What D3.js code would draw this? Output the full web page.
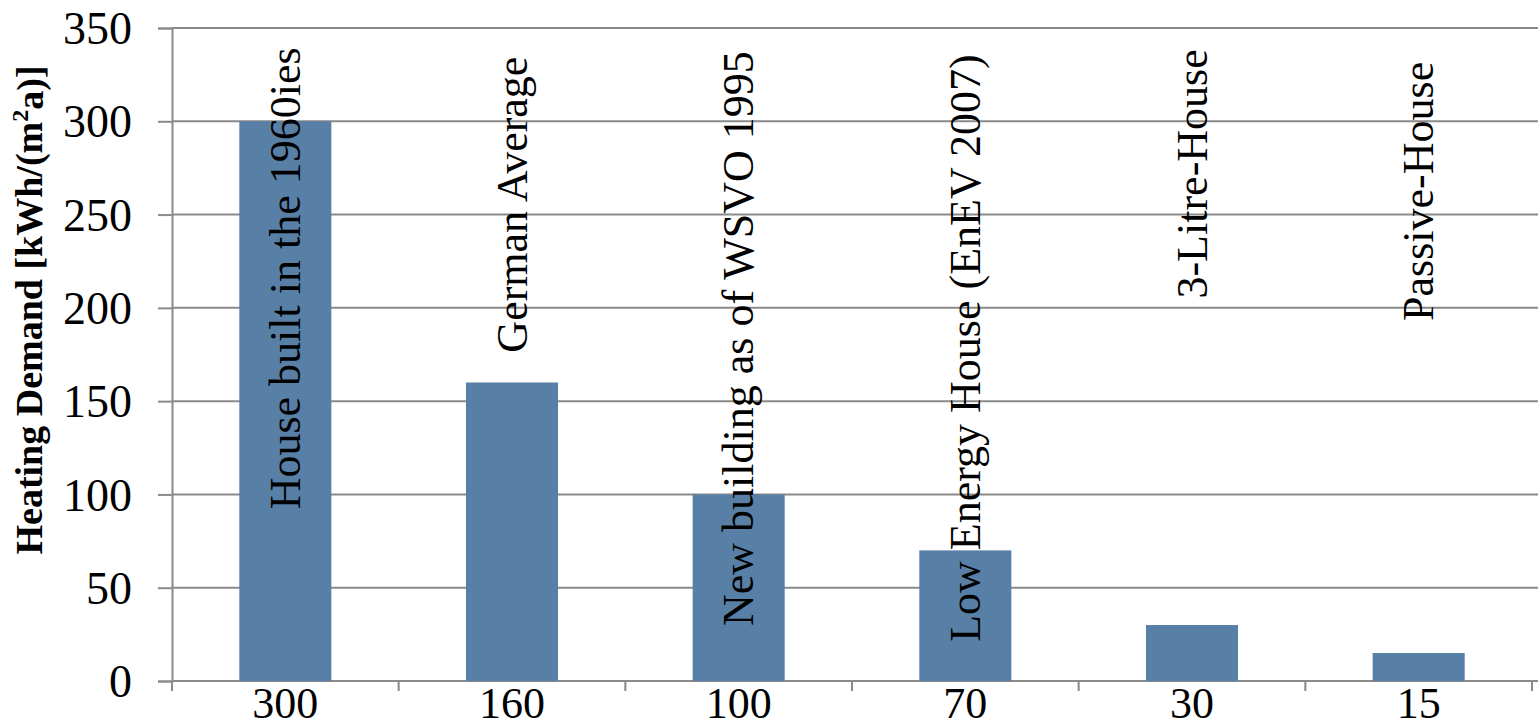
<!DOCTYPE html>
<html><head><meta charset="utf-8">
<script src="https://cdn.jsdelivr.net/npm/d3@7"></script>
<style>
html,body{margin:0;padding:0;background:#fff;}
svg{display:block;}
</style></head>
<body>
<svg id="chart" width="1538" height="728"></svg>
<script>
// ---- data ----
const categories = ["House built in the 1960ies","German Average","New building as of WSVO 1995","Low Energy House (EnEV 2007)","3-Litre-House","Passive-House"];
const values = [300,160,100,70,30,15];
const xTickLabels = ["300","160","100","70","30","15"];
const labelBase = [92,176,29.5,21,205,193];   // where each rotated category label starts (data units)
const yTicks = [0,50,100,150,200,250,300,350];
const yTitle = "Heating Demand [kWh/(m";
const yTitleSup = "2";
const yTitleEnd = "a)]";

// ---- layout ----
const W = 1538, H = 728;
const m = {left:172, right:6, top:28, bottom:47};
const svg = d3.select("#chart");
const font = "'Liberation Serif','Times New Roman',serif";
const gridCol = "#8a8a8a", barCol = "#587fa6";

const x = d3.scaleBand().domain(categories).range([m.left, W - m.right]).paddingInner(0.594).paddingOuter(0.297);
const y = d3.scaleLinear().domain([0,350]).range([H - m.bottom, m.top]);

// gridlines + y axis
const yAxis = d3.axisLeft(y).tickValues(yTicks).tickSize(14).tickPadding(26).tickFormat(d3.format("d"));
const gy = svg.append("g").attr("transform",`translate(${m.left},0)`).call(yAxis);
gy.select(".domain").attr("stroke",gridCol).attr("stroke-width",2);
gy.selectAll(".tick line").attr("stroke",gridCol).attr("stroke-width",2);
gy.selectAll(".tick text").attr("font-family",font).attr("font-size",46).attr("fill","#000").attr("dy","0.34em");

svg.append("g").selectAll("line").data(yTicks).join("line")
  .attr("x1",m.left).attr("x2",W).attr("y1",d=>y(d)).attr("y2",d=>y(d))
  .attr("stroke",gridCol).attr("stroke-width",2);

// bars
svg.append("g").selectAll("rect").data(values).join("rect")
  .attr("x",(d,i)=>x(categories[i])).attr("width",x.bandwidth())
  .attr("y",d=>y(d)).attr("height",d=>y(0)-y(d))
  .attr("fill",barCol);

// x axis: band boundary ticks
const bounds = categories.map(c => x(c) + x.bandwidth()/2 - x.step()/2);
bounds.push(x(categories[categories.length-1]) + x.bandwidth()/2 + x.step()/2);
svg.append("g").selectAll("line").data(bounds).join("line")
  .attr("x1",d=>d).attr("x2",d=>d).attr("y1",y(0)).attr("y2",y(0)+10)
  .attr("stroke",gridCol).attr("stroke-width",2);

// x tick labels (values)
svg.append("g").selectAll("text").data(xTickLabels).join("text")
  .attr("x",(d,i)=>x(categories[i]) + x.bandwidth()/2)
  .attr("y",H - 10)
  .attr("text-anchor","middle").attr("font-family",font).attr("font-size",44).attr("fill","#000")
  .text(d=>d);

// rotated category labels
svg.append("g").selectAll("text").data(categories).join("text")
  .attr("transform",(d,i)=>`translate(${x(d)+x.bandwidth()/2},${y(labelBase[i])}) rotate(-90)`)
  .attr("dy","0.33em")
  .attr("text-anchor","start").attr("font-family",font).attr("font-size",44).attr("fill","#000")
  .text(d=>d);

// y axis title
const t = svg.append("text")
  .attr("transform",`translate(42,${(60+560)/2}) rotate(-90)`)
  .attr("text-anchor","middle").attr("font-family",font).attr("font-weight","bold")
  .attr("font-size",38).attr("fill","#000");
t.append("tspan").text(yTitle);
t.append("tspan").attr("font-size",24).attr("dy","-0.6em").text(yTitleSup);
t.append("tspan").attr("dy","0.4em").text(yTitleEnd);
</script>
</body></html>
